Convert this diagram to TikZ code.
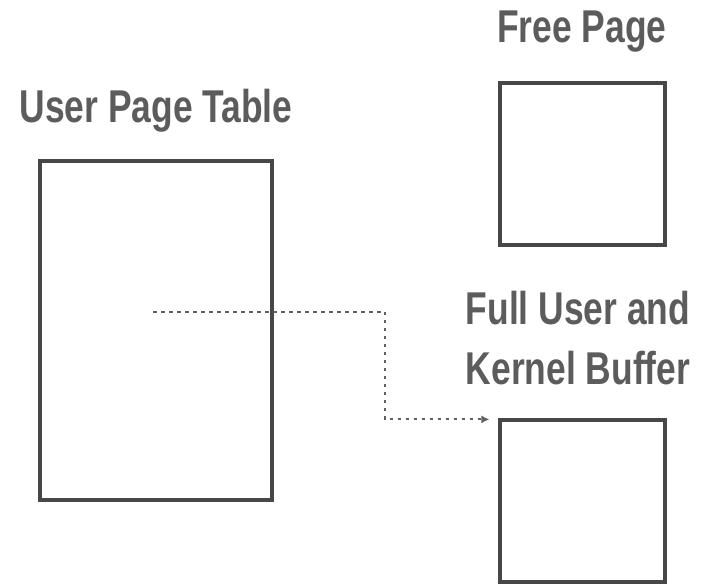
\documentclass[tikz,border=0pt]{standalone}
\usepackage{fontspec}
\setmainfont{Liberation Sans}
\usetikzlibrary{arrows.meta,calc}
\begin{document}
\begin{tikzpicture}[x=1pt,y=1pt,
  box/.style={draw=black!72, line width=3.2pt, fill=white, inner sep=0pt},
  lbl/.style={text=black!64, font=\fontsize{46}{60}\selectfont\bfseries, xscale=0.77, inner sep=0pt, align=center, anchor=base},
  conn/.style={draw=black!62, line width=2.2pt, dash pattern=on 3.5pt off 4.5pt, -{Latex[length=8pt,width=8pt]}}]
  \useasboundingbox (0,0) rectangle (713,585);

  % page table and the two pages
  \node[box, minimum width=232pt, minimum height=339pt] (table) at (156,254.5) {};
  \node[box, minimum width=165pt, minimum height=162pt] (free) at (582.5,421) {};
  \node[box, minimum width=165pt, minimum height=162pt] (buf) at (582.5,84) {};

  % labels (base anchor sits on the last line)
  \node[lbl] (tablelbl) at (156,462) {User Page Table};
  \node[lbl] (freelbl) at (582,542) {Free Page};
  \node[lbl] (buflbl) at (578,200) {Full User and\\Kernel Buffer};

  % mapping from a table entry to the buffer page
  \coordinate (entry) at (153,273);
  \coordinate (bend) at (385,0);
  \draw[conn, shorten >=9pt] (entry) -- (entry -| bend) |- ($(buf.north west)+(0,-1)$);
\end{tikzpicture}
\end{document}
